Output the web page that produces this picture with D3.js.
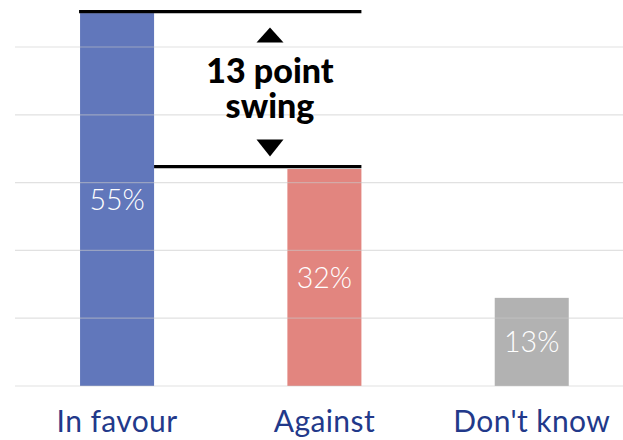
<!DOCTYPE html>
<html>
<head>
<meta charset="utf-8">
<script src="https://cdn.jsdelivr.net/npm/d3@7"></script>
<style>
  html, body { margin: 0; padding: 0; background: #ffffff; }
  svg { display: block; }
</style>
</head>
<body>
<svg id="chart" width="623" height="440"></svg>
<script>
// ---- data ----
const categories = ["In favour", "Against", "Don't know"];
const values = [55, 32, 13];
const valueLabels = ["55%", "32%", "13%"];
const barColors = ["#6177bb", "#e2857f", "#b2b2b2"];
const gridTicks = [0, 10, 20, 30, 40, 50];
const swingLines = ["13 point", "swing"];

// ---- layout ----
const W = 623, H = 440;
const svg = d3.select("#chart");

const y = d3.scaleLinear().domain([0, 50]).range([386, 47]);
const x = d3.scaleBand()
  .domain(categories)
  .range([13.4, 635.4])
  .paddingInner(0.643)
  .paddingOuter(0.3215);
const bw = x.bandwidth();

// bars
svg.append("g").selectAll("rect")
  .data(categories)
  .join("rect")
  .attr("x", d => x(d))
  .attr("y", (d, i) => y(values[i]))
  .attr("width", bw)
  .attr("height", (d, i) => y(0) - y(values[i]))
  .attr("fill", (d, i) => barColors[i]);

// gridlines (drawn over bars, semi-transparent)
svg.append("g").selectAll("line")
  .data(gridTicks)
  .join("line")
  .attr("x1", 15).attr("x2", W)
  .attr("y1", d => y(d)).attr("y2", d => y(d))
  .attr("stroke", "#c8c8c8")
  .attr("stroke-opacity", 0.55)
  .attr("stroke-width", 1.2);

// value labels (centered in bar)
svg.append("g").selectAll("text")
  .data(categories)
  .join("text")
  .attr("x", d => x(d) + bw / 2)
  .attr("y", (d, i) => (y(values[i]) + y(0)) / 2)
  .attr("dy", "0.36em")
  .attr("text-anchor", "middle")
  .attr("fill", "#ffffff")
  .attr("font-family", "Lato, 'Open Sans', sans-serif")
  .attr("font-weight", 300)
  .attr("font-size", 28.5)
  .text((d, i) => valueLabels[i]);

// category labels
svg.append("g").selectAll("text")
  .data(categories)
  .join("text")
  .attr("x", d => x(d) + bw / 2)
  .attr("y", 432)
  .attr("text-anchor", "middle")
  .attr("fill", "#22398a")
  .attr("font-family", "Lato, 'Open Sans', sans-serif")
  .attr("font-weight", 400)
  .attr("font-size", 30)
  .attr("letter-spacing", 0.4)
  .text(d => d);

// ---- swing annotation ----
const topY = y(values[0]) - 1.5;
const botY = y(values[1]) - 2.5;
const leftA = x(categories[0]);
const rightA = x(categories[1]) + bw;
const ann = svg.append("g");
ann.append("line")
  .attr("x1", leftA - 1).attr("x2", rightA)
  .attr("y1", topY).attr("y2", topY)
  .attr("stroke", "#000").attr("stroke-width", 3.2);
ann.append("line")
  .attr("x1", x(categories[0]) + bw).attr("x2", rightA)
  .attr("y1", botY).attr("y2", botY)
  .attr("stroke", "#000").attr("stroke-width", 3.2);

const cx = 270;
const triW = 27;
ann.append("path")
  .attr("d", `M${cx - triW / 2},${topY + 31} L${cx + triW / 2},${topY + 31} L${cx},${topY + 16} Z`)
  .attr("fill", "#000");
ann.append("path")
  .attr("d", `M${cx - triW / 2},${botY - 27} L${cx + triW / 2},${botY - 27} L${cx},${botY - 10} Z`)
  .attr("fill", "#000");

const swing = ann.append("text")
  .attr("x", cx)
  .attr("y", 83)
  .attr("text-anchor", "middle")
  .attr("fill", "#000")
  .attr("font-family", "Lato, 'Open Sans', sans-serif")
  .attr("font-weight", 900)
  .attr("font-size", 34);
swing.selectAll("tspan")
  .data(swingLines)
  .join("tspan")
  .attr("x", cx)
  .attr("dy", (d, i) => i === 0 ? 0 : 35)
  .text(d => d);
</script>
</body>
</html>
